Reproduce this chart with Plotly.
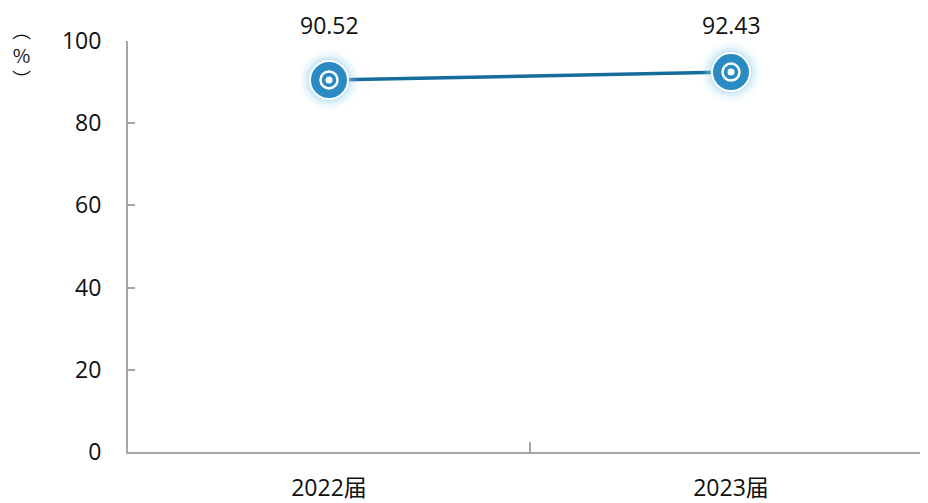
import plotly.graph_objects as go

categories = ["2022届", "2023届"]
values = [90.52, 92.43]
value_labels = ["90.52", "92.43"]
y_ticks = [0, 20, 40, 60, 80, 100]

LINE = "#156C9A"
FILL = "#2A8BC2"
FONT = "Open Sans, Noto Sans CJK SC, sans-serif"

fig = go.Figure()
# connecting line
fig.add_trace(go.Scatter(x=categories, y=values, mode="lines",
                         line=dict(color=LINE, width=3.5), hoverinfo="skip"))
# glow halo layers
for size, op in [(60, 0.08), (54, 0.12), (48, 0.2), (43, 0.3)]:
    fig.add_trace(go.Scatter(x=categories, y=values, mode="markers",
                             marker=dict(size=size, color="#9AD5F0", opacity=op, line=dict(width=0)),
                             hoverinfo="skip"))
# main disc
fig.add_trace(go.Scatter(x=categories, y=values, mode="markers",
                         marker=dict(size=38, color=FILL, line=dict(color="white", width=2)),
                         hoverinfo="skip"))
# inner ring
fig.add_trace(go.Scatter(x=categories, y=values, mode="markers",
                         marker=dict(size=17, color=FILL, line=dict(color="white", width=2.5)),
                         hoverinfo="skip"))
# center dot
fig.add_trace(go.Scatter(x=categories, y=values, mode="markers",
                         marker=dict(size=7, color="white", line=dict(width=0)),
                         hoverinfo="skip"))

for c, t in zip(categories, value_labels):
    fig.add_annotation(x=c, yref="paper", y=1.038, text=t, showarrow=False,
                       xanchor="center", yanchor="middle",
                       font=dict(size=23, color="#111111", family=FONT))

fig.add_annotation(xref="paper", yref="paper", x=-0.132, y=0.968, text="︵<br>%<br>︶",
                   showarrow=False, font=dict(size=19, color="#111111", family="Noto Sans CJK SC"),
                   xanchor="center", yanchor="middle")

fig.update_layout(
    width=924, height=495,
    margin=dict(l=120, r=0, t=33, b=42),
    plot_bgcolor="white", paper_bgcolor="white",
    showlegend=False,
    font=dict(family=FONT, color="#111111"),
)
fig.update_xaxes(range=[-0.5, 1.5], showgrid=False, showline=True, linecolor="#A6A6A6", linewidth=2,
                 ticks="inside", tickson="boundaries", ticklen=10, tickcolor="#A6A6A6", tickwidth=1.5,
                 ticklabelstandoff=14,
                 tickfont=dict(size=23, family=FONT, color="#111111"))
fig.update_yaxes(range=[0, 100], tickvals=y_ticks, showgrid=False, showline=True, linecolor="#A6A6A6",
                 linewidth=2, ticks="inside", ticklen=7, tickcolor="#A6A6A6", tickwidth=1.5,
                 zeroline=False, ticklabelstandoff=20,
                 tickfont=dict(size=23, family=FONT, color="#111111"))

fig.write_html("out.html")
